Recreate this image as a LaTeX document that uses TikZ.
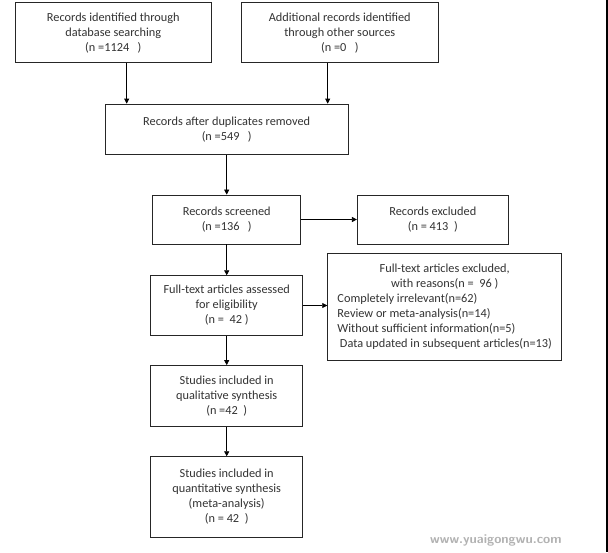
\documentclass[tikz,border=0pt]{standalone}
\usepackage{fontspec}
\setmainfont{Carlito}
\usetikzlibrary{arrows.meta}
\tikzset{
  x=1pt,y=-1pt,
  box/.style={draw=black!85,line width=0.8pt,fill=white,align=center,inner sep=0pt,
    font=\fontsize{12.3}{15}\selectfont,text=black!80},
  arr/.style={-{Triangle[length=5pt,width=5pt]},line width=0.7pt,black}
}
\begin{document}
\begin{tikzpicture}
\useasboundingbox (0,0) rectangle (608,552);
\fill[white] (0,0) rectangle (608,552);
\node[box,minimum width=196.7pt,minimum height=60pt] (b1) at (113.3,32.7)
  {Records identified through\\database searching\\(n =1124\ \ \ )};
\node[box,minimum width=197pt,minimum height=60pt] (b2) at (339.8,32.7)
  {Additional records identified\\through other sources\\(n =0\ \ \ )};
\node[box,minimum width=243.3pt,minimum height=50.3pt] (b3) at (226.7,129.2)
  {Records after duplicates removed\\(n =549\ \ \ )};
\node[box,minimum width=148pt,minimum height=49pt] (b4) at (226.7,219.5)
  {Records screened\\(n =136\ \ \ )};
\node[box,minimum width=151pt,minimum height=49pt] (b5) at (432.8,219.5)
  {Records excluded\\(n = 413\ \ )};
\node[box,minimum width=152pt,minimum height=59.6pt] (b6) at (226.7,305.5)
  {Full-text articles assessed\\for eligibility\\(n =\ \ 42 )};
\node[box,minimum width=234pt,minimum height=107.7pt] (b7) at (444.7,307)
  {\renewcommand{\arraystretch}{1}\begin{tabular}{@{}l@{}}
   \multicolumn{1}{c}{Full-text articles excluded,}\\
   \multicolumn{1}{c}{with reasons(n =\ \ 96 )}\\
   Completely irrelevant(n=62)\\
   Review or meta-analysis(n=14)\\
   Without sufficient information(n=5)\\
   \hspace{2.5pt}Data updated in subsequent articles(n=13)
   \end{tabular}};
\node[box,minimum width=152pt,minimum height=61pt] (b8) at (226.7,396)
  {Studies included in\\qualitative synthesis\\(n =42\ \ )};
\node[box,minimum width=152pt,minimum height=80.6pt] (b9) at (226.7,497)
  {Studies included in\\quantitative synthesis\\(meta-analysis)\\(n = 42\ \ )};
\coordinate (c1) at (126.7,0);
\coordinate (c2) at (327.7,0);
\draw[arr] (b1.south -| c1) -- (b3.north -| c1);
\draw[arr] (b2.south -| c2) -- (b3.north -| c2);
\draw[arr] (b3) -- (b4);
\draw[arr] (b4) -- (b5);
\draw[arr] (b4) -- (b6);
\draw[arr] (b6.east) -- (b7.west |- b6.east);
\draw[arr] (b6) -- (b8);
\draw[arr] (b8) -- (b9);
\node[font=\sffamily\bfseries\fontsize{13}{13}\selectfont,text=black!30,anchor=west,inner sep=0pt] (wm) at (430,540) {www.yuaigongwu.com};
\fill[black] (606,0) rectangle (608,552);
\end{tikzpicture}
\end{document}
